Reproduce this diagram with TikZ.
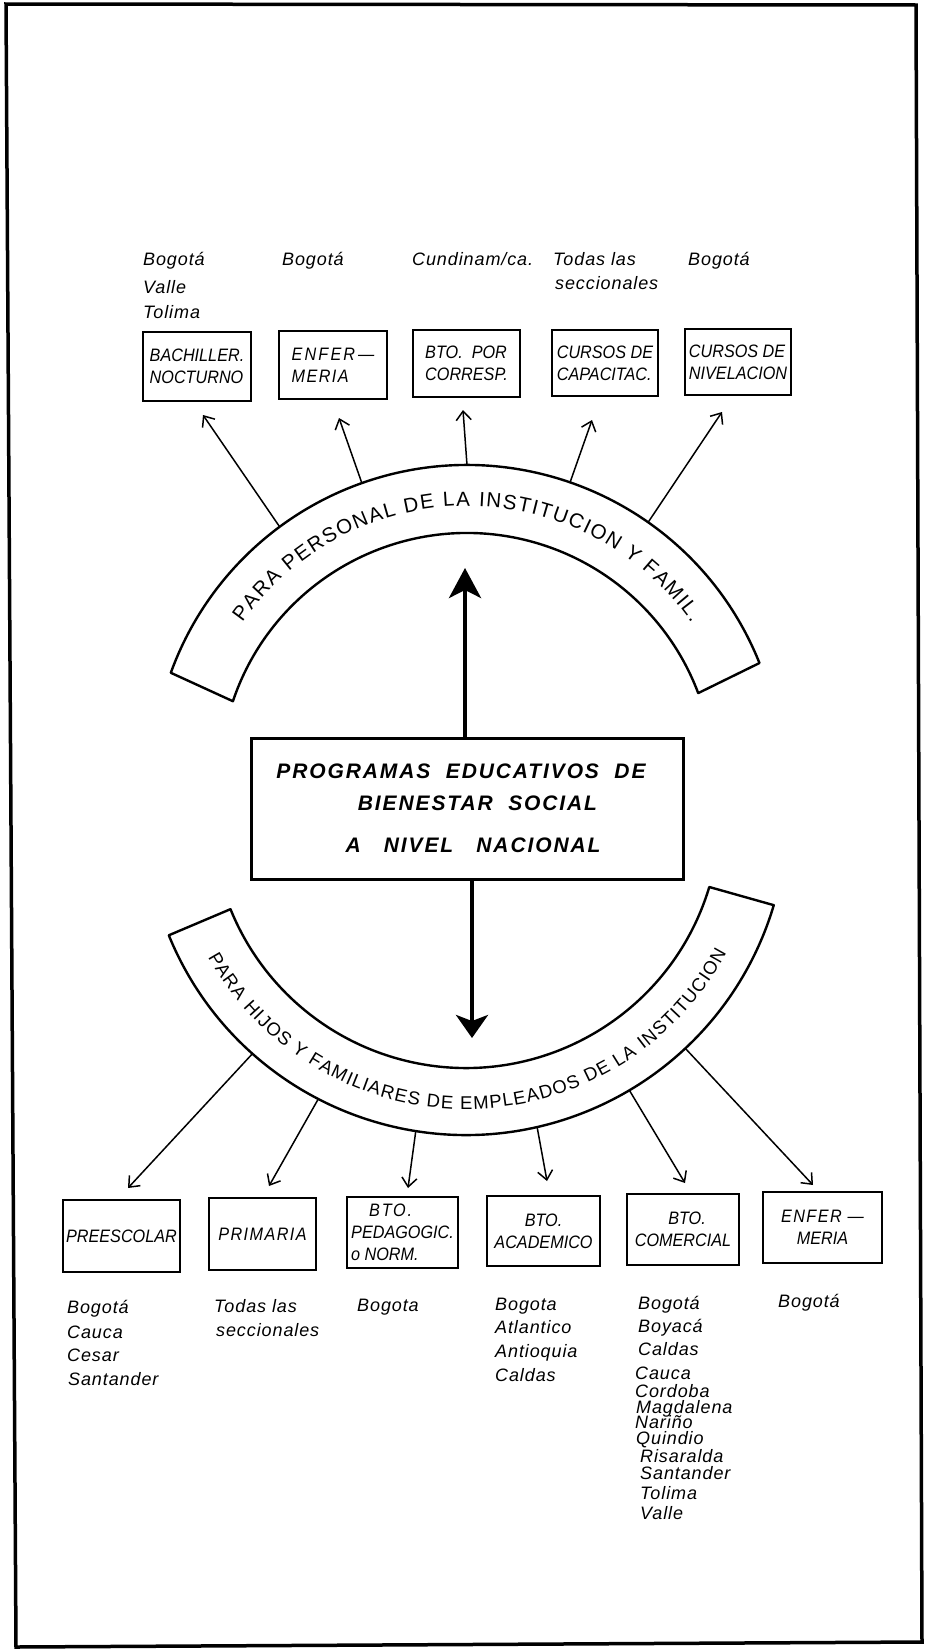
\documentclass[tikz,border=0pt]{standalone}
\usepackage{fontspec}
\setmainfont{Liberation Sans}
\newfontfamily\labfam[LetterSpace=5]{Liberation Sans}
\newfontfamily\bxfam[FakeStretch=0.9]{Liberation Sans}
\usetikzlibrary{arrows.meta,decorations.text}
\newcommand\bxfont{\bxfam\fontsize{18}{22}\selectfont\itshape}
\newcommand\lbfont{\labfam\fontsize{18}{24}\selectfont\itshape}
\newcommand\uarchfont{\fontsize{20.5}{20}\selectfont}
\newcommand\larchfont{\fontsize{18.5}{18}\selectfont}
\begin{document}
\begin{tikzpicture}[x=1pt,y=1pt,
  arch/.style={draw,line width=2.4pt,line join=round},
  ubox/.style={draw,line width=2.4pt,inner sep=0pt,font=\bxfont,align=left},
  lbox/.style={draw,line width=2.4pt,inner sep=0pt,font=\bxfont,align=center},
  lab/.style={anchor=base west,inner sep=0pt,font=\lbfont},
  thinarrow/.style={line width=1.5pt,-{Straight Barb[length=9pt,width=15pt]}},
  bigarrow/.style={line width=4pt}]
\useasboundingbox (0,0) rectangle (924,-1649);
\fill[white] (0,0) rectangle (924,-1649);
% frame
\draw[line width=3.5pt,line join=miter] (6,-4) -- (916,-5) -- (922,-1642) -- (16,-1647) -- cycle;

% ---------- upper labels ----------
\node[lab] (t1a) at (143,-265) {Bogotá};
\node[lab] (t1b) at (143,-293) {Valle};
\node[lab] (t1c) at (143,-318) {Tolima};
\node[lab] (t2) at (282,-265) {Bogotá};
\node[lab] (t3) at (412,-265) {Cundinam/ca.};
\node[lab] (t4a) at (553,-265) {Todas las};
\node[lab] (t4b) at (555,-289) {seccionales};
\node[lab] (t5) at (688,-265) {Bogotá};

% ---------- upper boxes ----------
\node[ubox,minimum width=108pt,minimum height=69pt] (ub1) at (197,-366.5) {BACHILLER.\\NOCTURNO};
\node[ubox,minimum width=108pt,minimum height=68pt] (ub2) at (333,-365) {{\addfontfeature{LetterSpace=12}ENFER\,—}\\{\addfontfeature{LetterSpace=8}MERIA}};
\node[ubox,minimum width=107pt,minimum height=67pt] (ub3) at (466.5,-363.5) {BTO.\ \ POR\\CORRESP.};
\node[ubox,minimum width=106pt,minimum height=66pt] (ub4) at (605,-363) {CURSOS DE\\CAPACITAC.};
\node[ubox,minimum width=106pt,minimum height=66pt] (ub5) at (738,-362) {CURSOS DE\\NIVELACION};

% ---------- upper arch ----------
\coordinate (UC) at (467,-780);
\draw[arch] ([shift={(UC)}]21.8:315) arc[start angle=21.8,end angle=160.1,radius=315]
  -- ([shift={(UC)}]161.4:247) arc[start angle=161.4,end angle=20.6,radius=247] -- cycle;
\path[decorate,decoration={text along path,text align={fit to path},
  text={|\uarchfont|PARA PERSONAL DE LA INSTITUCION Y FAMIL.}}]
  ([shift={(UC)}]145:274) arc[start angle=145,end angle=35,radius=274];
\foreach \a/\tx/\ty [count=\i] in {126.5/203/415, 109.5/339/418, 90/463/410, 70.9/592/420, 54.9/722/412}{
  \coordinate (us\i) at ([shift={(UC)}]\a:315);
  \coordinate (ut\i) at (\tx,-\ty);
  \draw[thinarrow] (us\i) -- (ut\i);
}

% ---------- central box ----------
\node[draw,line width=3pt,minimum width=432pt,minimum height=141pt,inner sep=0pt,align=center,
  font=\fontsize{21}{32}\selectfont\bfseries\itshape\addfontfeature{LetterSpace=9}] (cb) at (467,-808.5)
  {PROGRAMAS\ \ EDUCATIVOS\ \ DE\hspace*{12pt}\\
   \hspace*{21pt}BIENESTAR\ \ SOCIAL\\[10pt]
   \hspace*{12pt}A\ \ \ NIVEL\ \ \ NACIONAL};
\coordinate (uptip) at (465,-568);
\coordinate (dntip) at (472,-1038);
\draw[bigarrow,-{Stealth[length=30pt,width=32pt,inset=8pt]}] ([xshift=-2pt]cb.north) -- (uptip);
\draw[bigarrow,-{Stealth[length=23pt,width=32pt,inset=6pt]}] ([xshift=5pt]cb.south) -- (dntip);

% ---------- lower arch ----------
\coordinate (LC) at (466,-814);
\draw[arch] ([shift={(LC)}]202.2:321) arc[start angle=202.2,end angle=343.5,radius=321]
  -- ([shift={(LC)}]343.3:254) arc[start angle=343.3,end angle=202,radius=254] -- cycle;
\path[decorate,decoration={text along path,text align={fit to path},
  text={|\larchfont|PARA HIJOS Y FAMILIARES DE EMPLEADOS DE LA INSTITUCION}}]
  ([shift={(LC)}]209:295) arc[start angle=209,end angle=332,radius=295];
\foreach \a/\tx/\ty [count=\i] in {228.3/128/1188, 242.6/269/1186, 261/408/1188, 282.8/547/1181, 300.6/685/1183, 313.1/813/1185}{
  \coordinate (ls\i) at ([shift={(LC)}]\a:321);
  \coordinate (lt\i) at (\tx,-\ty);
  \draw[thinarrow] (ls\i) -- (lt\i);
}

% ---------- lower boxes ----------
\node[lbox,minimum width=117pt,minimum height=72pt] (lb1) at (121.5,-1236) {PREESCOLAR};
\node[lbox,minimum width=107pt,minimum height=72pt] (lb2) at (262.5,-1234) {{\addfontfeature{LetterSpace=8}PRIMARIA}};
\node[ubox,minimum width=111pt,minimum height=71pt] (lb3) at (402.5,-1232.5) {\hspace*{18pt}{\addfontfeature{LetterSpace=10}BTO.}\\PEDAGOGIC.\\o NORM.};
\node[lbox,minimum width=113pt,minimum height=70pt] (lb4) at (543.5,-1231) {BTO.\\ACADEMICO};
\node[lbox,minimum width=112pt,minimum height=71pt] (lb5) at (683,-1229.5) {\hspace*{8pt}BTO.\\COMERCIAL};
\node[lbox,minimum width=119pt,minimum height=71pt] (lb6) at (822.5,-1227.5) {{\addfontfeature{LetterSpace=8}ENFER\ —}\\MERIA};

% ---------- lower labels ----------
\foreach \t/\x/\y [count=\i] in {Bogotá/67/1313, Cauca/67/1338, Cesar/67/1361, Santander/68/1385,
  Todas las/214/1312, seccionales/216/1336, Bogota/357/1311,
  Bogota/495/1310, Atlantico/495/1333, Antioquia/495/1357, Caldas/495/1381,
  Bogotá/638/1309, Boyacá/638/1332, Caldas/638/1355, Cauca/635/1379, Cordoba/635/1397,
  Magdalena/636/1413, Nariño/635/1428, Quindio/636/1444, Risaralda/640/1462,
  Santander/640/1479, Tolima/640/1499, Valle/640/1519, Bogotá/778/1307}{
  \node[lab] (bl\i) at (\x,-\y) {\t};
}
\end{tikzpicture}
\end{document}
